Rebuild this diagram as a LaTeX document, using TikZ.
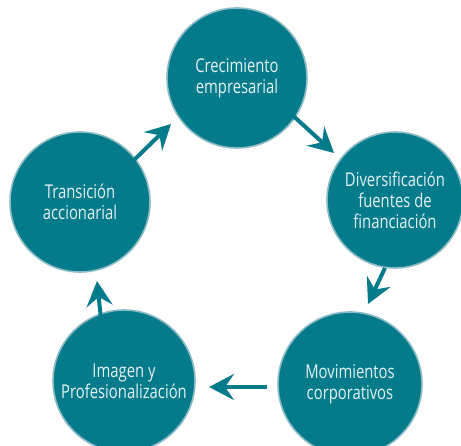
\documentclass[tikz,border=0pt]{standalone}
\usepackage{fontspec}
\setmainfont{Open Sans}[FakeStretch=0.78]
\usetikzlibrary{arrows.meta}
\definecolor{tealc}{HTML}{047B8B}
\definecolor{rimc}{HTML}{8DBCC4}
\definecolor{txtc}{HTML}{E6F2F4}
\begin{document}
\begin{tikzpicture}[x=1pt,y=-1pt,
  bubble/.style={circle, fill=tealc, draw=rimc, line width=1.6pt, minimum size=140pt,
    inner sep=0pt, align=center, text=txtc, font=\fontsize{19}{21}\selectfont},
  flow/.style={draw=tealc, line width=4pt,
    -{Stealth[length=25pt,width=26pt,inset=9pt]}}]
\useasboundingbox[fill=white] (0,0) rectangle (461,446);
\node[bubble] (a) at (237,78) {Crecimiento\\empresarial};
\node[bubble, minimum size=136pt] (b) at (395,200) {Diversificación\\fuentes de\\financiación};
\node[bubble, minimum size=144pt] (c) at (350,384) {Movimientos\\corporativos};
\node[bubble, minimum size=142pt] (d) at (124,381) {Imagen y\\Profesionalización};
\node[bubble] (e) at (80,202) {Transición\\accionarial};
\coordinate (ab1) at (290,113); \coordinate (ab2) at (334,153);
\coordinate (bc1) at (385,268); \coordinate (bc2) at (368,304);
\coordinate (cd1) at (267,387); \coordinate (cd2) at (209,387);
\coordinate (de1) at (101,319); \coordinate (de2) at (97,281);
\coordinate (ea1) at (132,162); \coordinate (ea2) at (171,124);
\draw[flow] (ab1) -- (ab2);
\draw[flow] (bc1) -- (bc2);
\draw[flow] (cd1) -- (cd2);
\draw[flow] (de1) -- (de2);
\draw[flow] (ea1) -- (ea2);
\end{tikzpicture}
\end{document}
